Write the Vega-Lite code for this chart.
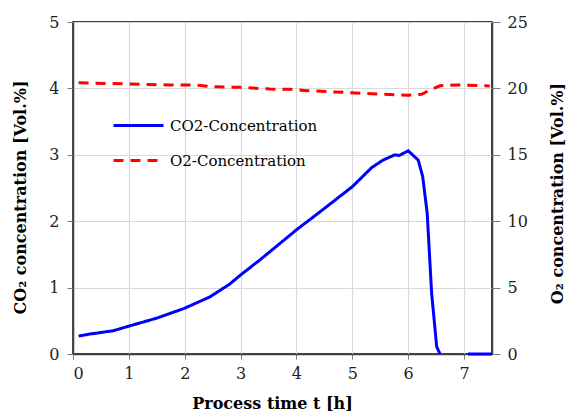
{
  "$schema": "https://vega.github.io/schema/vega-lite/v6.json",
  "width": 419,
  "height": 332,
  "autosize": {"type": "none"},
  "padding": {"left": 73, "top": 22, "right": 74, "bottom": 58},
  "background": "white",
  "config": {
    "font": "DejaVu Serif",
    "view": {"stroke": "#000", "strokeWidth": 1.5},
    "axis": {
      "labelFont": "DejaVu Serif",
      "labelFontSize": 16,
      "labelColor": "#222",
      "titleFont": "DejaVu Serif",
      "titleFontSize": 16,
      "titleFontWeight": "bold",
      "titleColor": "#000",
      "domainColor": "#404040",
      "domainWidth": 1.5,
      "tickColor": "#808080",
      "gridColor": "#d9d9d9",
      "gridWidth": 1.2
    },
    "legend": {"labelFont": "DejaVu Serif"}
  },
  "data": {
    "values": [
      {"t": 0.1, "v": 0.27, "s": "CO2-Concentration", "g": "a"},
      {"t": 0.3, "v": 0.3, "s": "CO2-Concentration", "g": "a"},
      {"t": 0.72, "v": 0.35, "s": "CO2-Concentration", "g": "a"},
      {"t": 1.0, "v": 0.42, "s": "CO2-Concentration", "g": "a"},
      {"t": 1.5, "v": 0.54, "s": "CO2-Concentration", "g": "a"},
      {"t": 2.0, "v": 0.69, "s": "CO2-Concentration", "g": "a"},
      {"t": 2.45, "v": 0.86, "s": "CO2-Concentration", "g": "a"},
      {"t": 2.8, "v": 1.05, "s": "CO2-Concentration", "g": "a"},
      {"t": 3.0, "v": 1.19, "s": "CO2-Concentration", "g": "a"},
      {"t": 3.35, "v": 1.42, "s": "CO2-Concentration", "g": "a"},
      {"t": 4.0, "v": 1.87, "s": "CO2-Concentration", "g": "a"},
      {"t": 4.42, "v": 2.14, "s": "CO2-Concentration", "g": "a"},
      {"t": 5.0, "v": 2.52, "s": "CO2-Concentration", "g": "a"},
      {"t": 5.35, "v": 2.81, "s": "CO2-Concentration", "g": "a"},
      {"t": 5.55, "v": 2.92, "s": "CO2-Concentration", "g": "a"},
      {"t": 5.76, "v": 3.0, "s": "CO2-Concentration", "g": "a"},
      {"t": 5.84, "v": 2.99, "s": "CO2-Concentration", "g": "a"},
      {"t": 6.0, "v": 3.06, "s": "CO2-Concentration", "g": "a"},
      {"t": 6.18, "v": 2.92, "s": "CO2-Concentration", "g": "a"},
      {"t": 6.26, "v": 2.67, "s": "CO2-Concentration", "g": "a"},
      {"t": 6.34, "v": 2.12, "s": "CO2-Concentration", "g": "a"},
      {"t": 6.42, "v": 0.91, "s": "CO2-Concentration", "g": "a"},
      {"t": 6.51, "v": 0.11, "s": "CO2-Concentration", "g": "a"},
      {"t": 6.57, "v": 0.0, "s": "CO2-Concentration", "g": "a"},
      {"t": 7.07, "v": 0.0, "s": "CO2-Concentration", "g": "b"},
      {"t": 7.5, "v": 0.0, "s": "CO2-Concentration", "g": "b"},
      {"t": 0.1, "v": 20.43, "s": "O2-Concentration", "g": "c"},
      {"t": 1.02, "v": 20.33, "s": "O2-Concentration", "g": "c"},
      {"t": 1.74, "v": 20.26, "s": "O2-Concentration", "g": "c"},
      {"t": 2.15, "v": 20.26, "s": "O2-Concentration", "g": "c"},
      {"t": 2.51, "v": 20.13, "s": "O2-Concentration", "g": "c"},
      {"t": 2.99, "v": 20.08, "s": "O2-Concentration", "g": "c"},
      {"t": 3.53, "v": 19.95, "s": "O2-Concentration", "g": "c"},
      {"t": 3.88, "v": 19.93, "s": "O2-Concentration", "g": "c"},
      {"t": 4.18, "v": 19.83, "s": "O2-Concentration", "g": "c"},
      {"t": 4.96, "v": 19.68, "s": "O2-Concentration", "g": "c"},
      {"t": 5.55, "v": 19.56, "s": "O2-Concentration", "g": "c"},
      {"t": 6.0, "v": 19.48, "s": "O2-Concentration", "g": "c"},
      {"t": 6.24, "v": 19.56, "s": "O2-Concentration", "g": "c"},
      {"t": 6.39, "v": 19.88, "s": "O2-Concentration", "g": "c"},
      {"t": 6.57, "v": 20.2, "s": "O2-Concentration", "g": "c"},
      {"t": 6.87, "v": 20.26, "s": "O2-Concentration", "g": "c"},
      {"t": 7.46, "v": 20.18, "s": "O2-Concentration", "g": "c"}
    ]
  },
  "encoding": {
    "x": {
      "field": "t",
      "type": "quantitative",
      "scale": {"domain": [0, 7.5], "nice": false},
      "axis": {
        "values": [0, 1, 2, 3, 4, 5, 6, 7],
        "title": "Process time t [h]",
        "grid": true,
        "tickSize": 5,
        "labelPadding": 6,
        "titleX": 199,
        "titleY": 54,
        "titleBaseline": "alphabetic"
      }
    }
  },
  "layer": [
    {
      "transform": [{"filter": {"field": "s", "equal": "CO2-Concentration"}}],
      "mark": {"type": "line", "strokeWidth": 3},
      "encoding": {
        "y": {
          "field": "v",
          "type": "quantitative",
          "scale": {"domain": [0, 5], "nice": false},
          "axis": {
            "values": [0, 1, 2, 3, 4, 5],
            "title": "CO₂ concentration [Vol.%]",
            "grid": true,
            "tickSize": 6,
            "labelPadding": 8,
            "titleX": -53,
            "titleY": 175,
            "titleAngle": 270,
            "titleBaseline": "middle"
          }
        },
        "color": {
          "field": "s",
          "type": "nominal",
          "scale": {"domain": ["CO2-Concentration", "O2-Concentration"], "range": ["#0000FF", "#FF0000"]},
          "legend": {
            "orient": "none",
            "legendX": 39,
            "legendY": 77,
            "title": null,
            "padding": 0,
            "labelFontSize": 15,
            "labelColor": "#000",
            "symbolType": "stroke",
            "symbolSize": 2500,
            "symbolStrokeWidth": 3,
            "labelOffset": 5,
            "rowPadding": 0
          }
        },
        "strokeDash": {
          "field": "s",
          "type": "nominal",
          "scale": {"domain": ["CO2-Concentration", "O2-Concentration"], "range": [[1, 0], [10, 7]]}
        },
        "detail": {"field": "g"}
      }
    },
    {
      "transform": [{"filter": {"field": "s", "equal": "O2-Concentration"}}],
      "mark": {"type": "line", "strokeWidth": 3},
      "encoding": {
        "y": {
          "field": "v",
          "type": "quantitative",
          "scale": {"domain": [0, 25], "nice": false},
          "axis": {
            "orient": "right",
            "values": [0, 5, 10, 15, 20, 25],
            "title": "O₂ concentration [Vol.%]",
            "grid": false,
            "tickSize": 8,
            "labelPadding": 7,
            "titleX": 65,
            "titleY": 171,
            "titleAngle": 270,
            "titleBaseline": "middle"
          }
        },
        "color": {
          "field": "s",
          "type": "nominal",
          "scale": {"domain": ["CO2-Concentration", "O2-Concentration"], "range": ["#0000FF", "#FF0000"]},
          "legend": {
            "orient": "none",
            "legendX": 39,
            "legendY": 77,
            "title": null,
            "padding": 0,
            "labelFontSize": 15,
            "labelColor": "#000",
            "symbolType": "stroke",
            "symbolSize": 2500,
            "symbolStrokeWidth": 3,
            "labelOffset": 5,
            "rowPadding": 0
          }
        },
        "strokeDash": {
          "field": "s",
          "type": "nominal",
          "scale": {"domain": ["CO2-Concentration", "O2-Concentration"], "range": [[1, 0], [10, 7]]}
        },
        "detail": {"field": "g"}
      }
    }
  ],
  "resolve": {"scale": {"y": "independent"}}
}
